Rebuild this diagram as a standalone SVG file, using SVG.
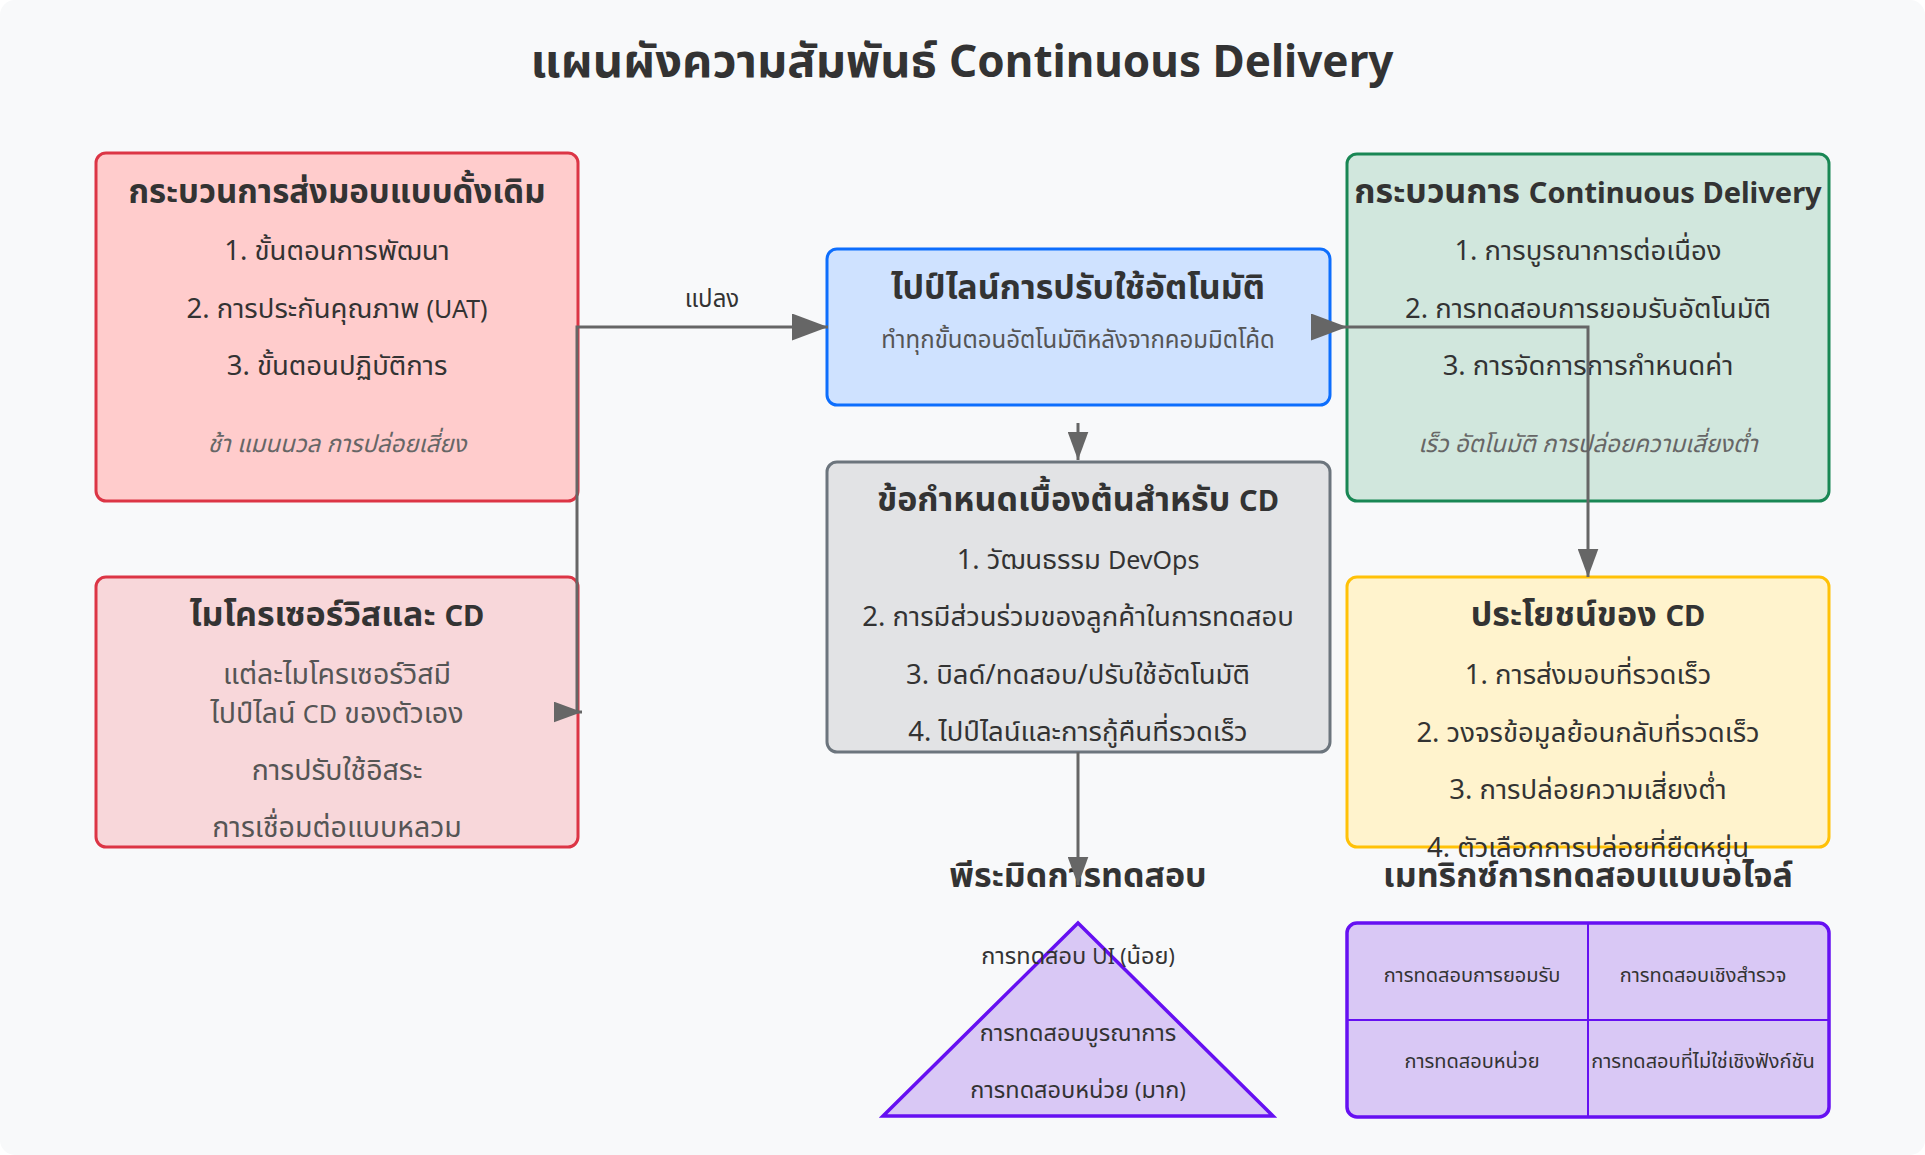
<svg xmlns="http://www.w3.org/2000/svg" width="1925" height="1155" viewBox="0 0 1925 1155">
<style>
text{font-family:"Noto Sans","Noto Sans Thai","DejaVu Sans",sans-serif;text-anchor:middle}
.ttl{font-size:47px;font-weight:bold;fill:#333}
.ttl .lat{font-size:44px}
.h{font-size:34px;font-weight:bold;fill:#333}
.h .lat{font-size:29px}
.i{font-size:27.5px;fill:#333}
.i .lat{font-size:25px}
.g{font-size:28.5px;fill:#555}
.g .lat{font-size:25px}
.it{font-size:24px;font-style:italic;fill:#666}
.sub{font-size:24px;fill:#555}
.lbl{font-size:24px;fill:#333}
.p{font-size:23.5px;fill:#333}
.p .lat{font-size:21px}
.m{font-size:20px;fill:#333}
.box{stroke-width:3}
.conn{fill:none;stroke:#666;stroke-width:3}
</style>
<defs>
<marker id="ab" markerWidth="12" markerHeight="9" refX="12" refY="4.5" orient="auto" markerUnits="strokeWidth"><polygon points="0,0 12,4.5 0,9" fill="#666"/></marker>
<marker id="as" markerWidth="9.5" markerHeight="7" refX="9.5" refY="3.5" orient="auto" markerUnits="strokeWidth"><polygon points="0,0 9.5,3.5 0,7" fill="#666"/></marker>
</defs>
<rect x="0" y="0" width="1925" height="1155" rx="15" fill="#f8f9fa"/>
<text class="ttl" x="962" y="77">แผนผังความสัมพันธ์ <tspan class="lat">Continuous Delivery</tspan></text>

<g id="traditional">
<rect class="box" x="96" y="153" width="482" height="348" rx="10" fill="#ffcccc" stroke="#dc3545"/>
<text class="h" x="337" y="203" style="font-size:33px">กระบวนการส่งมอบแบบดั้งเดิม</text>
<text class="i" x="337" y="260">1. ขั้นตอนการพัฒนา</text>
<text class="i" x="337" y="318">2. การประกันคุณภาพ <tspan class="lat">(UAT)</tspan></text>
<text class="i" x="337" y="375">3. ขั้นตอนปฏิบัติการ</text>
<text class="it" x="337" y="452">ช้า แมนนวล การปล่อยเสี่ยง</text>
</g>

<g id="microservices">
<rect class="box" x="96" y="577" width="482" height="270" rx="10" fill="#f8d7da" stroke="#dc3545"/>
<text class="h" x="337" y="626">ไมโครเซอร์วิสและ <tspan class="lat">CD</tspan></text>
<text class="g" x="337" y="684">แต่ละไมโครเซอร์วิสมี</text>
<text class="g" x="337" y="723">ไปป์ไลน์ <tspan class="lat">CD</tspan> ของตัวเอง</text>
<text class="g" x="337" y="780">การปรับใช้อิสระ</text>
<text class="g" x="337" y="837">การเชื่อมต่อแบบหลวม</text>
</g>

<g id="pipeline">
<rect class="box" x="827" y="249" width="503" height="156" rx="10" fill="#cfe2ff" stroke="#0d6efd"/>
<text class="h" x="1078" y="299">ไปป์ไลน์การปรับใช้อัตโนมัติ</text>
<text class="sub" x="1078" y="348">ทำทุกขั้นตอนอัตโนมัติหลังจากคอมมิตโค้ด</text>
</g>

<g id="prerequisites">
<rect class="box" x="827" y="462" width="503" height="290" rx="10" fill="#e2e3e5" stroke="#6c757d"/>
<text class="h" x="1078" y="511">ข้อกำหนดเบื้องต้นสำหรับ <tspan class="lat">CD</tspan></text>
<text class="i" x="1078" y="569">1. วัฒนธรรม <tspan class="lat">DevOps</tspan></text>
<text class="i" x="1078" y="626">2. การมีส่วนร่วมของลูกค้าในการทดสอบ</text>
<text class="i" x="1078" y="684">3. บิลด์/ทดสอบ/ปรับใช้อัตโนมัติ</text>
<text class="i" x="1078" y="741">4. ไปป์ไลน์และการกู้คืนที่รวดเร็ว</text>
</g>

<g id="cd-process">
<rect class="box" x="1347" y="154" width="482" height="347" rx="10" fill="#d1e7dd" stroke="#198754"/>
<text class="h" x="1588" y="203">กระบวนการ <tspan class="lat">Continuous Delivery</tspan></text>
<text class="i" x="1588" y="260">1. การบูรณาการต่อเนื่อง</text>
<text class="i" x="1588" y="318">2. การทดสอบการยอมรับอัตโนมัติ</text>
<text class="i" x="1588" y="375">3. การจัดการการกำหนดค่า</text>
<text class="it" x="1588" y="452">เร็ว อัตโนมัติ การปล่อยความเสี่ยงต่ำ</text>
</g>

<g id="benefits">
<rect class="box" x="1347" y="577" width="482" height="270" rx="10" fill="#fff3cd" stroke="#ffc107"/>
<text class="h" x="1588" y="626">ประโยชน์ของ <tspan class="lat">CD</tspan></text>
<text class="i" x="1588" y="684">1. การส่งมอบที่รวดเร็ว</text>
<text class="i" x="1588" y="742">2. วงจรข้อมูลย้อนกลับที่รวดเร็ว</text>
<text class="i" x="1588" y="799">3. การปล่อยความเสี่ยงต่ำ</text>
<text class="i" x="1588" y="857">4. ตัวเลือกการปล่อยที่ยืดหยุ่น</text>
</g>

<g id="pyramid">
<text class="h" x="1078" y="887">พีระมิดการทดสอบ</text>
<polygon points="1078,923 1273,1116 883,1116" fill="#d9c8f5" stroke="#6610f2" stroke-width="3.5"/>
<text class="p" x="1078" y="964">การทดสอบ <tspan class="lat">UI (</tspan>น้อย<tspan class="lat">)</tspan></text>
<text class="p" x="1078" y="1041">การทดสอบบูรณาการ</text>
<text class="p" x="1078" y="1098">การทดสอบหน่วย <tspan class="lat">(</tspan>มาก<tspan class="lat">)</tspan></text>
</g>

<g id="matrix">
<text class="h" x="1588" y="887">เมทริกซ์การทดสอบแบบอไจล์</text>
<rect x="1347" y="923" width="482" height="194" rx="10" fill="#d9c8f5" stroke="#6610f2" stroke-width="3.5"/>
<line x1="1588" y1="923" x2="1588" y2="1117" stroke="#6610f2" stroke-width="2"/>
<line x1="1347" y1="1020" x2="1829" y2="1020" stroke="#6610f2" stroke-width="2"/>
<text class="m" x="1472" y="982">การทดสอบการยอมรับ</text>
<text class="m" x="1703" y="982">การทดสอบเชิงสำรวจ</text>
<text class="m" x="1472" y="1068">การทดสอบหน่วย</text>
<text class="m" x="1703" y="1068">การทดสอบที่ไม่ใช่เชิงฟังก์ชัน</text>
</g>

<g id="connectors">
<path class="conn" d="M578 327 L828 327" marker-end="url(#ab)"/>
<text class="lbl" x="712" y="307">แปลง</text>
<path class="conn" d="M578 327 L577 327 L577 712 L582 712" marker-end="url(#as)"/>
<path class="conn" d="M1330 327 L1347 327" marker-end="url(#ab)"/>
<path class="conn" d="M1347 327 L1588 327 L1588 577" marker-end="url(#as)"/>
<path class="conn" d="M1078 423 L1078 460" marker-end="url(#as)"/>
<path class="conn" d="M1078 752 L1078 885" marker-end="url(#as)"/>
</g>
</svg>
